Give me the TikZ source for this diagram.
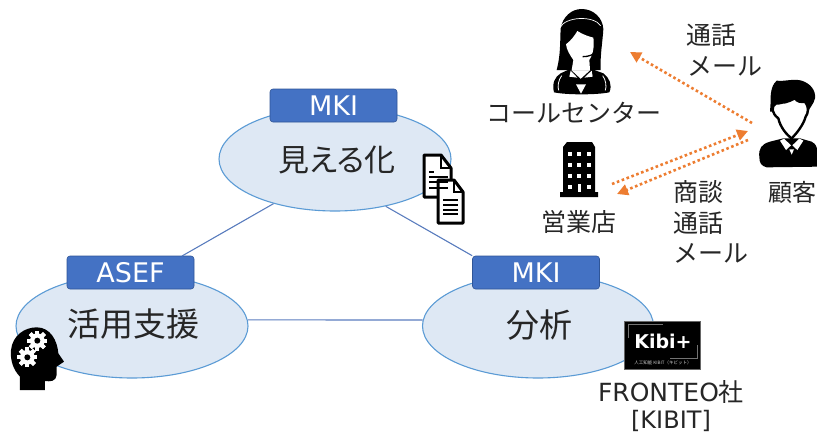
\documentclass[tikz,border=0pt]{standalone}
\usepackage{fontspec}
\usepackage{tikz}
\usetikzlibrary{arrows.meta}
\usetikzlibrary{shapes.geometric}
\setmainfont{Noto Sans CJK JP}
\newfontfamily\paltfont[RawFeature=+palt]{Noto Sans CJK JP}
\newfontfamily\latinfont{DejaVu Sans}
\newcommand{\fs}[1]{\fontsize{#1}{#1}\selectfont}
\definecolor{inktext}{HTML}{262626}
\definecolor{ovalfill}{HTML}{DEE8F4}
\definecolor{ovalline}{HTML}{5B9BD5}
\definecolor{tagfill}{HTML}{4472C4}
\definecolor{tagline}{HTML}{2F5597}
\definecolor{linkblue}{HTML}{5A7DBE}
\definecolor{dotorange}{HTML}{ED7D31}
\tikzset{
  oval/.style={ellipse,draw=ovalline,fill=ovalfill,line width=1.1pt,inner sep=0pt,minimum width=232pt,minimum height=104pt},
  tag/.style={draw=tagline,fill=tagfill,rounded corners=3pt,line width=.6pt,minimum width=127pt,minimum height=33pt,inner sep=0pt,text=white,font=\latinfont\fs{27}},
  lbl/.style={text=inktext,inner sep=0pt,font=\fs{25}},
  ovaltext/.style={text=inktext,inner sep=0pt,font=\fs{33}},
  link/.style={draw=linkblue,line width=1.1pt},
  talk/.style={draw=dotorange,line width=2.6pt,dash pattern=on 2.6pt off 2.6pt,-{Triangle[length=11pt,width=11pt,fill=dotorange]}},
}
\newcommand{\gear}[2]{%
  \fill[white] (#1,#2) circle (22);
  \foreach \a in {0,45,...,315}
    \fill[white,shift={(#1,#2)},rotate=\a] (-6,-30) rectangle (6,30);
  \fill[black] (#1,#2) circle (9);
}
\begin{document}
\begin{tikzpicture}[x=1pt,y=-1pt]
\useasboundingbox (0,0) rectangle (817,434);
% ovals and tags
\node[oval] (seeing) at (335,159) {};
\node[oval] (support) at (132,326) {};
\node[oval,minimum width=231pt] (analysis) at (538,326) {};
\node[tag] (seetag) at (333.5,105.5) {MKI};
\node[tag] (supporttag) at (130.5,272.5) {ASEF};
\node[tag] (analysistag) at (536,272.5) {MKI};
\node[ovaltext,font=\paltfont\fs{31}] (seetext) at (337,160) {見える化};
\node[ovaltext] (supporttext) at (133,324) {活用支援};
\node[ovaltext] (analysistext) at (539,325) {分析};
% links
\coordinate (supportend) at (182,256);
\draw[link] (seeing.216)--(supportend);
\draw[link] (seeing.317)--(analysistag.north west);
\draw[link] (support.3)--(analysis.177);
% documents
\draw[black,fill=white,line width=3pt,line join=round] (424,155)--(441,155)--(451,168)--(451,197)--(424,197)--cycle;
\draw[black,line width=2pt] (441,155)--(441,168)--(451,168);
\draw[black,fill=white,line width=3pt,line join=round] (438,180)--(454,180)--(463,192)--(463,223)--(438,223)--cycle;
\draw[black,line width=2pt] (454,180)--(454,192)--(463,192);
\draw[black,line width=2pt] (429,172)--(434,172);
\foreach \y in {177,182,188} \draw[black,line width=2pt] (429,\y)--(448,\y);
\foreach \y in {200,205,210,214} \draw[black,line width=2pt] (443,\y)--(458,\y);
% head with gears
\begin{scope}[shift={(0,320)},scale=1/3]
\fill[black] (60,210)--(60,170) .. controls (40,150) and (30,120) .. (33,90)
  .. controls (38,45) and (75,22) .. (110,22) .. controls (150,22) and (172,60) .. (175,100)
  --(192,125)--(170,140)--(170,165) .. controls (168,185) and (150,185) .. (135,183)--(135,210)--cycle;
\gear{112}{62}
\gear{82}{112}
\end{scope}
% kibit logo
\node[fill=black,draw=black!60,line width=.5pt,minimum width=76pt,minimum height=48pt,inner sep=0pt] (kibitbox) at (662,345) {};
\draw[black!55,line width=1pt] (628,338)--(628,324)--(663,324);
\draw[black!55,line width=1pt] (697,345)--(697,358)--(670,358);
\node[text=white,inner sep=0pt,font=\latinfont\bfseries\fs{19}] (kibitlogo) at (663,341) {Kibi+};
\node[text=black!20,inner sep=0pt,font=\fs{4.5}] (kibitsub) at (663,363) {人工知能 KIBIT（キビット）};
\node[lbl,font=\fs{25}] (frontlabel) at (671,392) {{\latinfont FRONTEO}社};
\node[lbl,font=\latinfont\fs{24}] (kibitlabel) at (671,421) {[KIBIT]};
% call center agent
\begin{scope}[shift={(540,5)},scale=1/3]
\fill[black] (50,195) .. controls (62,150) and (60,110) .. (62,70)
  .. controls (68,35) and (95,12) .. (125,12) .. controls (160,12) and (188,38) .. (190,72)
  .. controls (188,110) and (180,150) .. (182,195)--cycle;
\draw[white,line width=.7pt] (60,68) .. controls (75,35) and (160,30) .. (182,62);
\fill[white] (78,118) .. controls (95,105) and (105,90) .. (112,78)
  .. controls (130,90) and (150,95) .. (160,98) .. controls (165,130) and (155,155) .. (148,165)
  --(150,195)--(95,195)--(100,165) .. controls (90,150) and (80,135) .. (78,118)--cycle;
\draw[black,line width=1.3pt] (168,135) .. controls (165,150) and (145,155) .. (128,155);
\fill[black] (42,262) .. controls (35,235) and (45,215) .. (62,205)--(90,192)--(122,222)--(155,192)--(190,205)
  .. controls (208,218) and (218,240) .. (208,262) .. controls (170,270) and (80,270) .. (42,262)--cycle;
\draw[white,line width=.8pt] (65,212) .. controls (55,225) and (52,245) .. (56,256);
\draw[white,line width=.8pt] (188,212) .. controls (198,225) and (200,245) .. (196,256);
\fill[white] (92,197)--(112,218)--(88,215)--cycle;
\fill[white] (155,197)--(133,218)--(158,215)--cycle;
\fill[white] (108,238)--(138,238)--(123,266)--cycle;
\end{scope}
\node[lbl] (agentlabel) at (574,113) {コールセンター};
% branch building
\fill[black] (567,142)--(592,142)--(595,147)--(595,192)--(598,192)--(598,197)--(560,197)--(560,192)--(563,192)--(563,147)--cycle;
\foreach \x in {569.5,579,588.5}
  \foreach \y in {154,165,176}
    \fill[white] (\x-2,\y-2) rectangle (\x+2,\y+2);
\fill[white] (567.5,185) rectangle (571.5,189);
\fill[white] (586.5,185) rectangle (590.5,189);
\fill[white] (577.5,184) rectangle (580.5,192);
\node[lbl] (branchlabel) at (579,222) {営業店};
% customer
\begin{scope}[shift={(750,70)},scale=1/3]
\fill[black] (62,95) .. controls (60,60) and (70,40) .. (80,32) .. controls (105,35) and (130,25) .. (155,32)
  .. controls (180,40) and (198,60) .. (195,85) .. controls (190,105) and (180,110) .. (175,125)
  --(60,125)--cycle;
\fill[black] (28,262) .. controls (25,235) and (35,222) .. (60,215)--(100,205)--(150,205)--(185,215)
  .. controls (200,222) and (205,235) .. (205,290)--(50,292) .. controls (35,288) and (28,280) .. (28,262)--cycle;
\draw[black,fill=white,line width=2.4pt,line join=round] (78,100) .. controls (85,103) and (100,95) .. (105,97)
  .. controls (115,95) and (125,90) .. (135,85) .. controls (140,95) and (155,98) .. (165,95)
  .. controls (178,110) and (175,130) .. (167,140) .. controls (160,165) and (140,190) .. (125,205)
  .. controls (110,195) and (90,170) .. (85,145) .. controls (65,130) and (62,110) .. (78,100)--cycle;
\fill[white] (90,212)--(102,206)--(123,226)--(108,240)--cycle;
\fill[white] (160,212)--(148,206)--(127,226)--(142,240)--cycle;
\fill[white] (118,238)--(132,238)--(125,254)--cycle;
\end{scope}
\node[lbl,anchor=west,font=\fs{24}] (customerlabel) at (768,192) {顧客};
% talk arrows
\coordinate (agentport) at (630,52);
\coordinate (customerup) at (752,123);
\coordinate (customermid) at (748,131);
\coordinate (customerlow) at (748,140);
\coordinate (branchup) at (612,184);
\coordinate (branchlow) at (617,194);
\draw[talk] (customerup)--(agentport);
\draw[talk] (branchup)--(customermid);
\draw[talk] (customerlow)--(branchlow);
\node[lbl] (calltext) at (711,35) {通話};
\node[lbl] (mailtext) at (725,66) {メール};
\node[lbl] (dealtext) at (698,192) {商談};
\node[lbl] (calltextb) at (698,223) {通話};
\node[lbl] (mailtextb) at (711,253) {メール};
\end{tikzpicture}
\end{document}
